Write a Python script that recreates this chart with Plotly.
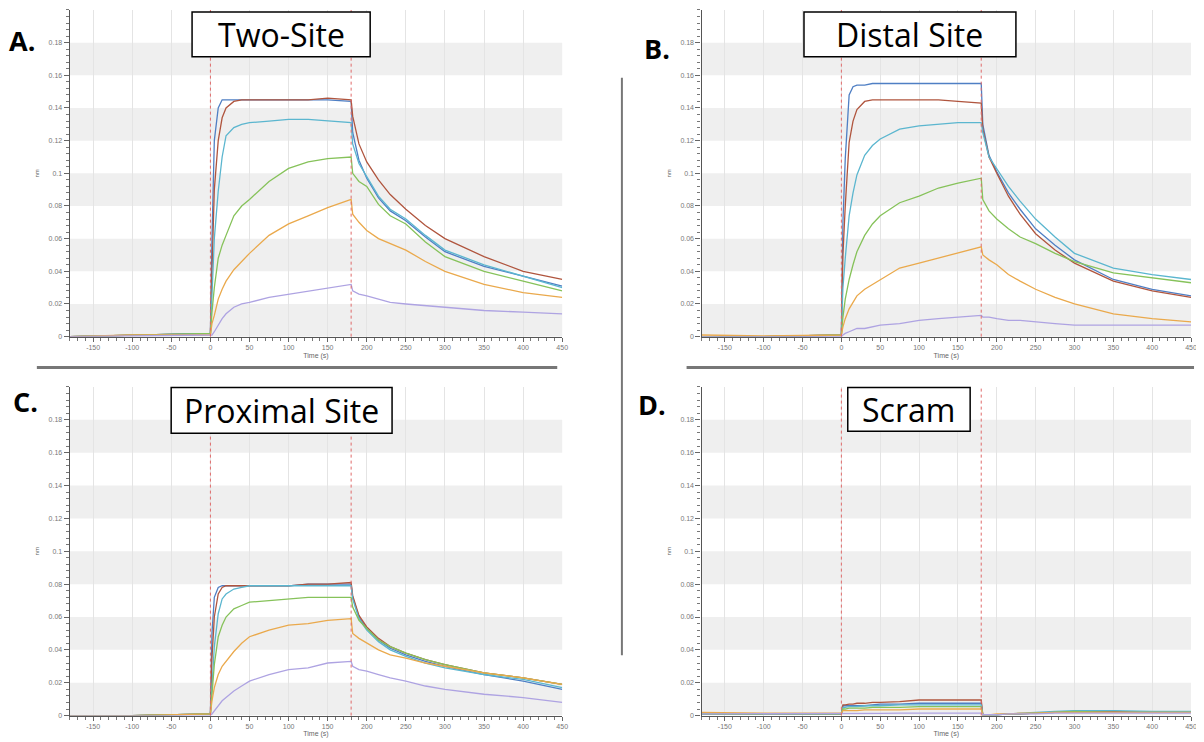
import plotly.graph_objects as go

# ---------------- data ----------------
TIME = [-180, -100, 0, 2, 5, 10, 15, 20, 30, 40, 50, 75, 100, 125, 150, 180,
        182, 190, 200, 215, 230, 250, 275, 300, 350, 400, 450]

SERIES_NAMES = ["blue", "brown", "cyan", "green", "orange", "lavender"]
SERIES_COLORS = ["#4f7fc4", "#b0553e", "#5bb6cf", "#86c25a", "#eaa94c", "#aea3e2"]

# Panel A: Two-Site
A_BLUE = [0, 0.001, 0.002, 0.06, 0.12, 0.14, 0.145, 0.145, 0.145, 0.145, 0.145, 0.145, 0.145, 0.145, 0.145, 0.144,
          0.125, 0.108, 0.097, 0.085, 0.077, 0.071, 0.061, 0.052, 0.043, 0.037, 0.031]
A_BROWN = [0, 0.001, 0.002, 0.04, 0.09, 0.12, 0.134, 0.14, 0.144, 0.145, 0.145, 0.145, 0.145, 0.145, 0.146, 0.145,
           0.135, 0.118, 0.107, 0.096, 0.087, 0.078, 0.068, 0.060, 0.049, 0.040, 0.035]
A_CYAN = [0, 0.001, 0.002, 0.025, 0.06, 0.089, 0.11, 0.123, 0.128, 0.130, 0.131, 0.132, 0.133, 0.133, 0.132, 0.131,
          0.118, 0.106, 0.098, 0.086, 0.078, 0.072, 0.062, 0.053, 0.044, 0.037, 0.030]
A_GREEN = [0, 0.001, 0.002, 0.015, 0.03, 0.048, 0.056, 0.062, 0.074, 0.080, 0.084, 0.095, 0.103, 0.107, 0.109, 0.110,
           0.100, 0.095, 0.092, 0.081, 0.074, 0.069, 0.058, 0.049, 0.040, 0.034, 0.028]
A_ORANGE = [0, 0.001, 0.001, 0.008, 0.013, 0.023, 0.029, 0.034, 0.041, 0.046, 0.051, 0.062, 0.069, 0.074, 0.079, 0.084,
            0.075, 0.070, 0.065, 0.060, 0.057, 0.053, 0.046, 0.040, 0.032, 0.027, 0.024]
A_LAVENDER = [0, 0.0005, 0.001, 0.001, 0.003, 0.007, 0.011, 0.014, 0.018, 0.020, 0.021, 0.024, 0.026, 0.028, 0.030, 0.032,
              0.028, 0.026, 0.025, 0.023, 0.021, 0.020, 0.019, 0.018, 0.016, 0.015, 0.014]

# Panel B: Distal Site
B_BLUE = [0, 0, 0.001, 0.07, 0.109, 0.148, 0.153, 0.154, 0.154, 0.155, 0.155, 0.155, 0.155, 0.155, 0.155, 0.155,
          0.130, 0.111, 0.101, 0.088, 0.078, 0.066, 0.056, 0.047, 0.035, 0.029, 0.025]
B_BROWN = [0, 0, 0.001, 0.05, 0.08, 0.119, 0.132, 0.139, 0.144, 0.145, 0.145, 0.145, 0.145, 0.145, 0.144, 0.143,
           0.127, 0.110, 0.100, 0.086, 0.075, 0.063, 0.053, 0.045, 0.034, 0.028, 0.024]
B_CYAN = [0, 0, 0.001, 0.03, 0.048, 0.074, 0.088, 0.099, 0.111, 0.117, 0.121, 0.127, 0.129, 0.130, 0.131, 0.131,
          0.125, 0.110, 0.103, 0.092, 0.083, 0.072, 0.061, 0.051, 0.042, 0.038, 0.035]
B_GREEN = [0, 0, 0.001, 0.012, 0.023, 0.035, 0.044, 0.052, 0.062, 0.069, 0.074, 0.082, 0.086, 0.091, 0.094, 0.097,
           0.084, 0.077, 0.072, 0.066, 0.061, 0.057, 0.051, 0.046, 0.039, 0.036, 0.033]
B_ORANGE = [0.001, 0.0005, 0.001, 0.006, 0.011, 0.017, 0.021, 0.025, 0.029, 0.032, 0.035, 0.042, 0.045, 0.048, 0.051, 0.055,
            0.050, 0.047, 0.044, 0.038, 0.034, 0.029, 0.024, 0.020, 0.014, 0.011, 0.009]
B_LAVENDER = [0, 0, 0, 0.001, 0.002, 0.003, 0.004, 0.005, 0.005, 0.006, 0.007, 0.008, 0.010, 0.011, 0.012, 0.013,
              0.012, 0.012, 0.011, 0.010, 0.010, 0.009, 0.008, 0.007, 0.007, 0.007, 0.007]

# Panel C: Proximal Site
C_BLUE = [0, 0, 0.001, 0.05, 0.072, 0.078, 0.079, 0.079, 0.079, 0.079, 0.079, 0.079, 0.079, 0.080, 0.080, 0.080,
          0.072, 0.060, 0.053, 0.046, 0.041, 0.037, 0.033, 0.030, 0.025, 0.021, 0.016]
C_BROWN = [0, 0, 0.001, 0.035, 0.06, 0.074, 0.078, 0.079, 0.079, 0.079, 0.079, 0.079, 0.079, 0.080, 0.080, 0.081,
           0.073, 0.061, 0.054, 0.047, 0.042, 0.038, 0.034, 0.031, 0.026, 0.023, 0.019]
C_CYAN = [0, 0, 0.001, 0.02, 0.042, 0.062, 0.071, 0.074, 0.077, 0.078, 0.079, 0.079, 0.079, 0.079, 0.079, 0.079,
          0.071, 0.059, 0.052, 0.045, 0.040, 0.036, 0.032, 0.029, 0.025, 0.022, 0.017]
C_GREEN = [0, 0, 0.001, 0.015, 0.031, 0.048, 0.055, 0.060, 0.065, 0.067, 0.069, 0.070, 0.071, 0.072, 0.072, 0.072,
           0.066, 0.058, 0.053, 0.046, 0.042, 0.038, 0.034, 0.031, 0.026, 0.023, 0.019]
C_ORANGE = [0, 0, 0.001, 0.009, 0.017, 0.025, 0.030, 0.033, 0.039, 0.044, 0.048, 0.052, 0.055, 0.056, 0.058, 0.059,
            0.050, 0.047, 0.044, 0.040, 0.037, 0.035, 0.032, 0.030, 0.026, 0.023, 0.019]
C_LAVENDER = [0, 0, 0, 0.001, 0.003, 0.006, 0.009, 0.011, 0.015, 0.018, 0.021, 0.025, 0.028, 0.029, 0.032, 0.033,
              0.030, 0.028, 0.027, 0.025, 0.023, 0.021, 0.018, 0.016, 0.013, 0.011, 0.008]

# Panel D: Scram
D_BLUE = [0.001, 0.001, 0.001, 0.006, 0.006, 0.006, 0.006, 0.006, 0.006, 0.0065, 0.007, 0.007, 0.0075, 0.0075, 0.0075, 0.0075,
          0.0005, 0.0005, 0.0005, 0.001, 0.001, 0.0015, 0.002, 0.0025, 0.0025, 0.002, 0.002]
D_BROWN = [0.001, 0.001, 0.001, 0.0065, 0.0065, 0.007, 0.007, 0.0075, 0.0075, 0.008, 0.008, 0.0085, 0.0095, 0.0095, 0.0095, 0.0095,
           0.0005, 0.0005, 0.0005, 0.001, 0.001, 0.0015, 0.002, 0.002, 0.0025, 0.002, 0.002]
D_CYAN = [0.001, 0.001, 0.001, 0.005, 0.005, 0.0055, 0.0055, 0.0055, 0.006, 0.006, 0.006, 0.0065, 0.0065, 0.0065, 0.0065, 0.0065,
          0.0005, 0.0005, 0.0005, 0.001, 0.0015, 0.002, 0.0025, 0.003, 0.003, 0.0025, 0.0025]
D_GREEN = [0.001, 0.001, 0.001, 0.004, 0.004, 0.0045, 0.0045, 0.0045, 0.0045, 0.005, 0.005, 0.005, 0.0055, 0.0055, 0.0055, 0.0055,
           0.0005, 0.0005, 0.0005, 0.001, 0.001, 0.0015, 0.002, 0.0025, 0.002, 0.002, 0.002]
D_ORANGE = [0.002, 0.0015, 0.0015, 0.003, 0.003, 0.003, 0.003, 0.003, 0.0035, 0.0035, 0.0035, 0.0035, 0.004, 0.004, 0.004, 0.004,
            0.0005, 0.0005, 0.001, 0.001, 0.0015, 0.0015, 0.002, 0.002, 0.002, 0.002, 0.002]
D_LAVENDER = [0.001, 0.001, 0.001, 0.0012, 0.0012, 0.0013, 0.0013, 0.0013, 0.0014, 0.0014, 0.0014, 0.0015, 0.0015, 0.0015, 0.0015, 0.0015,
              0.0005, 0.0005, 0.0005, 0.001, 0.001, 0.001, 0.0015, 0.0015, 0.0015, 0.0015, 0.0015]

PANEL_TITLES = ["Two-Site", "Distal Site", "Proximal Site", "Scram"]
PANEL_LETTERS = ["A.", "B.", "C.", "D."]

X_TICK_VALUES = [-150, -100, -50, 0, 50, 100, 150, 200, 250, 300, 350, 400, 450]
X_TICK_LABELS = ["-150", "-100", "-50", "0", "50", "100", "150", "200", "250", "300", "350", "400", "450"]
Y_TICK_VALUES = [0, 0.02, 0.04, 0.06, 0.08, 0.1, 0.12, 0.14, 0.16, 0.18]
Y_TICK_LABELS = ["0", "0.02", "0.04", "0.06", "0.08", "0.1", "0.12", "0.14", "0.16", "0.18"]
GRAY_BANDS = [(0, 0.02), (0.04, 0.06), (0.08, 0.1), (0.12, 0.14), (0.16, 0.18)]
EVENT_TIMES = [0, 180]
X_RANGE = [-180, 450]
Y_RANGE = [0, 0.2]

PANEL_DATA = [
    [A_BLUE, A_BROWN, A_CYAN, A_GREEN, A_ORANGE, A_LAVENDER],
    [B_BLUE, B_BROWN, B_CYAN, B_GREEN, B_ORANGE, B_LAVENDER],
    [C_BLUE, C_BROWN, C_CYAN, C_GREEN, C_ORANGE, C_LAVENDER],
    [D_BLUE, D_BROWN, D_CYAN, D_GREEN, D_ORANGE, D_LAVENDER],
]

# ---------------- layout geometry (window pixels) ----------------
# the page body has an 8px margin, so the figure is placed at (8, 8)
OFF = 8
W, H = 1204 - OFF, 742 - OFF
def px(x):
    return (x - OFF) / W
def py(y):
    return 1 - (y - OFF) / H

# plot areas: (left, right, top, bottom) in window px
AREAS = [(70, 565, 10, 338), (705, 1197, 10, 338), (70, 565, 388.5, 718.5), (705, 1197, 388.5, 718.5)]
TITLE_BOXES = [(193, 372, 12, 57), (808, 1021, 12, 57), (172, 394, 389, 435), (852, 975, 389, 433)]
LETTER_POS = [(7, 41), (645, 49), (11, 403), (639, 406)]

fig = go.Figure()
shapes = []
annotations = []
layout_axes = {}

for i in range(4):
    n = "" if i == 0 else str(i + 1)
    xa, ya = "x" + n, "y" + n
    l, r, t, b = AREAS[i]
    layout_axes["xaxis" + n] = dict(
        domain=[px(l), px(r)], anchor=ya, range=X_RANGE,
        tickmode="array", tickvals=X_TICK_VALUES, ticktext=X_TICK_LABELS,
        ticks="outside", ticklen=4, tickcolor="#666", tickwidth=1,
        minor=dict(tickmode="linear", tick0=-180, dtick=10, ticks="outside", ticklen=3, tickcolor="#777", showgrid=False),
        showgrid=True, gridcolor="#e4e4e4", gridwidth=1,
        showline=True, linecolor="#555", linewidth=1.2,
        zeroline=False,
        tickfont=dict(size=7, color="#777", family="Liberation Sans"),
        title=dict(text="Time (s)", font=dict(size=7, color="#666", family="Liberation Sans"), standoff=2),
    )
    layout_axes["yaxis" + n] = dict(
        domain=[py(b), py(t)], anchor=xa, range=Y_RANGE,
        tickmode="array", tickvals=Y_TICK_VALUES, ticktext=Y_TICK_LABELS,
        ticks="outside", ticklen=5, tickcolor="#666", tickwidth=1,
        minor=dict(tickmode="linear", tick0=0, dtick=0.004, ticks="outside", ticklen=3, tickcolor="#777", showgrid=False),
        showgrid=False, showline=True, linecolor="#555", linewidth=1.2,
        zeroline=False,
        tickfont=dict(size=7, color="#777", family="Liberation Sans"),
        title=dict(text="nm", font=dict(size=6, color="#666", family="Liberation Sans"), standoff=8),
    )
    for lo, hi in GRAY_BANDS:
        shapes.append(dict(type="rect", xref=xa + " domain", yref=ya, x0=0, x1=1, y0=lo, y1=hi,
                           fillcolor="#efefef", line=dict(width=0), layer="below"))
    for et in EVENT_TIMES:
        shapes.append(dict(type="line", xref=xa, yref=ya + " domain", x0=et, x1=et, y0=0, y1=1,
                           line=dict(color="#e06a6a", width=1, dash="dot"), layer="above"))
    for name, color, vals in zip(SERIES_NAMES, SERIES_COLORS, PANEL_DATA[i]):
        fig.add_trace(go.Scatter(x=TIME, y=vals, mode="lines", name=name, xaxis=xa, yaxis=ya,
                                 line=dict(color=color, width=1.3), showlegend=False))
    bl, br, bt, bb = TITLE_BOXES[i]
    shapes.append(dict(type="rect", xref="paper", yref="paper", x0=px(bl), x1=px(br), y0=py(bb), y1=py(bt),
                       fillcolor="white", line=dict(color="black", width=1.5), layer="above"))
    annotations.append(dict(text=PANEL_TITLES[i], xref="paper", yref="paper", x=px((bl + br) / 2), y=py((bt + bb) / 2),
                            xanchor="center", yanchor="middle", showarrow=False,
                            font=dict(size=32, color="black", family="Open Sans")))
    lx, ly = LETTER_POS[i]
    annotations.append(dict(text="<b>" + PANEL_LETTERS[i] + "</b>", xref="paper", yref="paper", x=px(lx), y=py(ly),
                            xanchor="left", yanchor="middle", showarrow=False,
                            font=dict(size=27, color="black", family="Open Sans")))

# divider lines
shapes.append(dict(type="line", xref="paper", yref="paper", x0=px(37), x1=px(560), y0=py(369), y1=py(369),
                   line=dict(color="#777", width=3)))
shapes.append(dict(type="line", xref="paper", yref="paper", x0=px(690), x1=px(1200), y0=py(369), y1=py(369),
                   line=dict(color="#777", width=3)))
shapes.append(dict(type="line", xref="paper", yref="paper", x0=px(625), x1=px(625), y0=py(78), y1=py(658),
                   line=dict(color="#777", width=2)))

fig.update_layout(
    width=W, height=H, margin=dict(l=0, r=0, t=0, b=0),
    paper_bgcolor="white", plot_bgcolor="white",
    shapes=shapes, annotations=annotations, showlegend=False,
    **layout_axes,
)

fig.write_html("out.html")
